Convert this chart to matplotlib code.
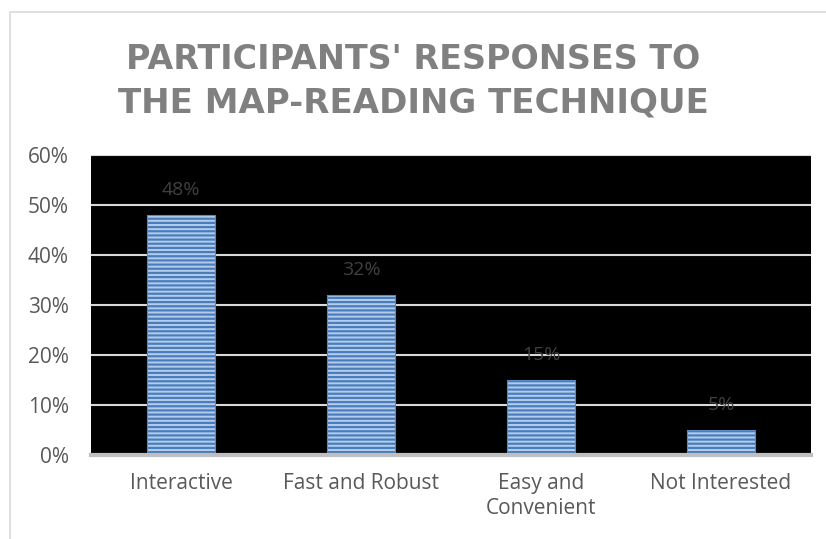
import matplotlib.pyplot as plt
from matplotlib.patches import Rectangle
from matplotlib.ticker import FuncFormatter

categories = ["Interactive", "Fast and Robust", "Easy and\nConvenient", "Not Interested"]
values = [0.48, 0.32, 0.15, 0.05]
value_labels = ["48%", "32%", "15%", "5%"]
yticks = [0, 0.1, 0.2, 0.3, 0.4, 0.5, 0.6]

plt.rcParams['font.family'] = ['Open Sans', 'DejaVu Sans']
plt.rcParams['hatch.linewidth'] = 1.6

fig = plt.figure(figsize=(8.26, 5.39), dpi=100)

# outer chart border
fig.patches.append(Rectangle((10 / 826, -0.1), 1.0, 1 - 12 / 539 + 0.1,
                             transform=fig.transFigure, fill=False,
                             edgecolor='#d9d9d9', linewidth=1.2))

ax = fig.add_axes([91 / 826, 1 - 455 / 539, 720 / 826, 300 / 539])
ax.set_facecolor('black')

x = range(len(categories))
ax.bar(x, values, width=0.378, color='#b4cdee', edgecolor='#4a7ebb',
       hatch='----', linewidth=0, zorder=3)
ax.bar(x, values, width=0.378, fill=False, edgecolor='#5b87c5',
       linewidth=0.8, zorder=4)

for xi, v, lab in zip(x, values, value_labels):
    ax.annotate(lab, (xi, v), xytext=(0, 18), textcoords='offset points',
                ha='center', va='center', fontsize=14, color='#404040', zorder=5)

ax.set_xlim(-0.5, len(categories) - 0.5)
ax.set_ylim(0, 0.6)
ax.set_yticks(yticks)
ax.yaxis.set_major_formatter(FuncFormatter(lambda v, p: f"{v * 100:.0f}%"))
ax.set_xticks(list(x))
ax.set_xticklabels(categories, linespacing=1.25)
ax.grid(axis='y', color='#d9d9d9', linewidth=1.5, zorder=1)
ax.tick_params(axis='both', length=0, labelsize=15, colors='#595959')
ax.tick_params(axis='x', pad=13)
ax.tick_params(axis='y', pad=16)

for side in ['top', 'right', 'left']:
    ax.spines[side].set_visible(False)
ax.spines['bottom'].set_color('#bfbfbf')
ax.spines['bottom'].set_linewidth(3)
ax.spines['bottom'].set_zorder(6)

fig.text(0.5, 1 - 60 / 539, "PARTICIPANTS' RESPONSES TO", ha='center', va='center',
         fontsize=24, fontweight='bold', color='#808080', family='DejaVu Sans')
fig.text(0.5, 1 - 103 / 539, "THE MAP-READING TECHNIQUE", ha='center', va='center',
         fontsize=24.5, fontweight='bold', color='#808080', family='DejaVu Sans')

fig.savefig("out.png", dpi=100)
